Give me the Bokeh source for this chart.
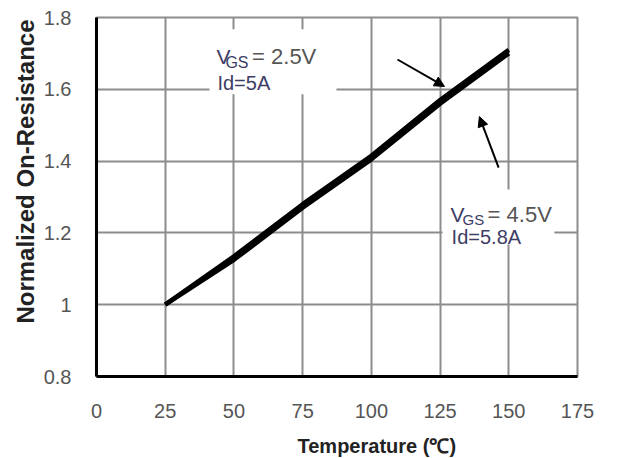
import math
from bokeh.plotting import figure
from bokeh.models import Range1d, FixedTicker, Label, Arrow, NormalHead, BoxAnnotation, Title
from bokeh.embed import file_html
from bokeh.resources import INLINE

# ---- data ----
temps = [25, 50, 75, 100, 125, 150]
r_vgs25 = [1.00, 1.135, 1.28, 1.415, 1.57, 1.71]
r_vgs45 = [1.00, 1.125, 1.27, 1.405, 1.56, 1.70]
x_ticks = [0, 25, 50, 75, 100, 125, 150, 175]
y_ticks = [0.8, 1.0, 1.2, 1.4, 1.6, 1.8]
y_tick_labels = ["0.8", "1", "1.2", "1.4", "1.6", "1.8"]

FONT = "Liberation Sans"
GRID = "#8c8c8c"
TXT_B = "#3d3d66"
TXT_G = "#555555"

p = figure(frame_width=481, frame_height=359,
           min_border_left=96, min_border_right=44, min_border_top=17, min_border_bottom=73,
           x_range=Range1d(0, 175), y_range=Range1d(0.8, 1.8),
           output_backend="svg", toolbar_location=None)
p.background_fill_color = "white"
p.border_fill_color = "white"
p.outline_line_color = GRID
p.outline_line_width = 2

for ax in (p.xaxis[0], p.yaxis[0]):
    ax.axis_line_color = "black"
    ax.axis_line_width = 3
    ax.major_tick_line_color = None
    ax.minor_tick_line_color = None
    ax.major_tick_in = 0
    ax.major_tick_out = 0
    ax.major_label_text_font = FONT
    ax.major_label_text_font_size = "20px"
    ax.major_label_text_color = TXT_G

p.xaxis[0].ticker = FixedTicker(ticks=x_ticks)
p.yaxis[0].ticker = FixedTicker(ticks=y_ticks)
p.yaxis[0].major_label_overrides = {t: l for t, l in zip(y_ticks, y_tick_labels)}
p.xaxis[0].major_label_standoff = 27
p.yaxis[0].major_label_standoff = 25

p.xgrid.grid_line_color = GRID
p.ygrid.grid_line_color = GRID
p.xgrid.grid_line_width = 2
p.ygrid.grid_line_width = 2

# white boxes behind annotation texts
p.add_layout(BoxAnnotation(left=41.1, right=87.3, bottom=1.586, top=1.767,
                           fill_color="white", fill_alpha=1, line_color=None, level="underlay"))
p.add_layout(BoxAnnotation(left=125.9, right=166.6, bottom=1.168, top=1.321,
                           fill_color="white", fill_alpha=1, line_color=None, level="underlay"))

p.line(temps, r_vgs25, line_width=4.5, color="black")
p.line(temps, r_vgs45, line_width=4.5, color="black")

def lab(x, y, text, size, color, **kw):
    p.add_layout(Label(x=x, y=y, text=text, text_font=FONT, text_font_size=size,
                       text_color=color, text_baseline="alphabetic", **kw))

lab(43.7, 1.6914, "V", "21px", TXT_B)
lab(46.9, 1.6747, "GS", "16px", TXT_B)
lab(56.6, 1.6914, "= 2.5V", "22px", TXT_G)
lab(44.0, 1.6162, "Id=5A", "20px", TXT_B)

lab(128.8, 1.2513, "V", "21px", TXT_B)
lab(133.2, 1.2373, "GS", "15px", TXT_B)
lab(142.3, 1.2513, "= 4.5V", "22px", TXT_G)
lab(129.2, 1.1872, "Id=5.8A", "20px", TXT_B)

p.add_layout(Arrow(end=NormalHead(size=10, fill_color="black", line_color="black"),
                   x_start=109.5, y_start=1.683, x_end=126.6, y_end=1.608,
                   line_width=2, line_color="black"))
p.add_layout(Arrow(end=NormalHead(size=10, fill_color="black", line_color="black"),
                   x_start=146.3, y_start=1.382, x_end=139.3, y_end=1.524,
                   line_width=2, line_color="black"))

# axis titles
p.add_layout(Title(text="Normalized On-Resistance", align="right", offset=2, standoff=4,
                   text_font=FONT, text_font_size="24px", text_font_style="bold",
                   text_color="#222222"), "left")
p.add_layout(Title(text="Temperature (℃)", align="left", offset=201, standoff=24,
                   text_font=FONT, text_font_size="20px", text_font_style="bold",
                   text_color="#222222"), "below")

open("out.html", "w").write(file_html(p, INLINE))
